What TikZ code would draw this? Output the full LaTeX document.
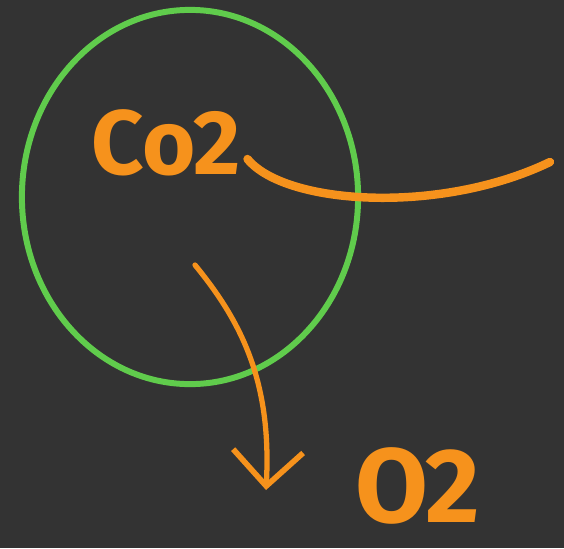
\documentclass[tikz,border=0pt]{standalone}
\usepackage{fontspec}
\setmainfont{Fira Sans}
\usetikzlibrary{arrows.meta,shapes.geometric,positioning}
\definecolor{boardgray}{RGB}{51,51,51}
\definecolor{cellgreen}{RGB}{96,204,76}
\definecolor{gasorange}{RGB}{246,146,28}
\tikzset{
  cell/.style={draw=cellgreen,line width=1.7pt,ellipse,
    minimum width=3.36cm,minimum height=3.74cm,inner sep=0pt},
  gas/.style={text=gasorange,inner sep=0pt,font=\bfseries},
  inflow/.style={draw=gasorange,line width=2.4pt,line cap=round},
  outflow/.style={-{Straight Barb[length=3.5mm,width=7mm,line width=1.6pt]},
    draw=gasorange,line width=1.5pt,line cap=round}
}

\begin{document}
\begin{tikzpicture}[x=0.01cm,y=-0.01cm]
  \fill[boardgray] (0,0) rectangle (564,548);
  \useasboundingbox (0,0) rectangle (564,548);
  \node[cell] (cell) at (190,197) {};
  \node[gas,font=\fontsize{26}{28}\selectfont\bfseries] (co2) at (166,143) {Co2};
  \node[gas,font=\fontsize{30}{32}\selectfont\bfseries] (o2) at (418,486) {O2};
  \coordinate (far) at (550,162);
  \coordinate (inside) at (195,265);
  \coordinate (drop) at (266,490);
  \draw[inflow] ([shift={(6,16)}]co2.east) .. controls (285,205) and (440,215) .. (far);
  \draw[outflow] (inside) .. controls (240,320) and (272,380) .. (drop);
\end{tikzpicture}
\end{document}
